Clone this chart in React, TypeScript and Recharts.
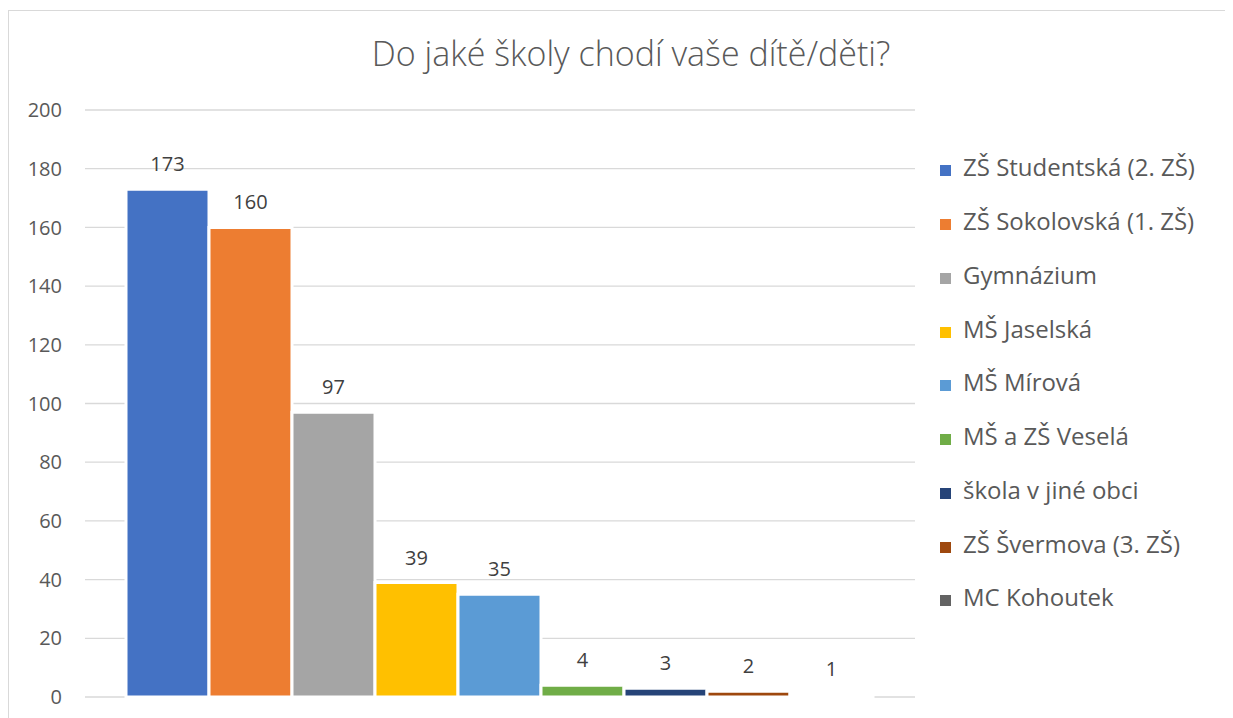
import React from "react";
import { BarChart, Bar, XAxis, YAxis, CartesianGrid, LabelList } from "recharts";

const categories = [""];
const seriesNames = [
  "ZŠ Studentská (2. ZŠ)",
  "ZŠ Sokolovská (1. ZŠ)",
  "Gymnázium",
  "MŠ Jaselská",
  "MŠ Mírová",
  "MŠ a ZŠ Veselá",
  "škola v jiné obci",
  "ZŠ Švermova (3. ZŠ)",
  "MC Kohoutek",
];
const seriesValues = [173, 160, 97, 39, 35, 4, 3, 2, 1];
const seriesColors = [
  "#4472C4",
  "#ED7D31",
  "#A5A5A5",
  "#FFC000",
  "#5B9BD5",
  "#70AD47",
  "#264478",
  "#9E480E",
  "#636363",
];
const yTicks = [0, 20, 40, 60, 80, 100, 120, 140, 160, 180, 200];
const title = "Do jaké školy chodí vaše dítě/děti?";

const data = categories.map((c) => {
  const row: Record<string, number | string> = { name: c };
  seriesValues.forEach((v, i) => {
    row["s" + i] = v;
  });
  return row;
});

const FONT = "'Open Sans', sans-serif";

export default function App() {
  return (
    <div
      style={{
        position: "relative",
        marginTop: 2,
        width: 1220,
        height: 712,
        border: "1px solid #D9D9D9",
        background: "#fff",
        fontFamily: FONT,
      }}
    >
      <div
        style={{
          position: "absolute",
          left: 0,
          width: 1244,
          top: 19,
          textAlign: "center",
          fontSize: 34,
          fontWeight: 300,
          color: "#595959",
          lineHeight: "46px",
          whiteSpace: "nowrap",
        }}
      >
        {title}
      </div>
      <BarChart
        width={1220}
        height={712}
        data={data}
        margin={{ top: 99, right: 314, bottom: 26, left: 16 }}
        barCategoryGap={41}
        barGap={0}
      >
        <CartesianGrid vertical={false} stroke="#D9D9D9" strokeWidth={1.3} />
        <XAxis dataKey="name" hide />
        <YAxis
          width={60}
          domain={[0, 200]}
          ticks={yTicks}
          axisLine={false}
          tickLine={false}
          tickSize={0}
          tickMargin={23}
          interval={0}
          tick={{ fill: "#595959", fontSize: 20, fontFamily: FONT }}
        />
        {seriesNames.map((n, i) => (
          <Bar
            key={n}
            dataKey={"s" + i}
            name={n}
            fill={seriesColors[i]}
            stroke="#FFFFFF"
            strokeWidth={3}
            isAnimationActive={false}
          >
            <LabelList
              dataKey={"s" + i}
              position="top"
              offset={18}
              fill="#404040"
              fontSize={20}
              fontFamily={FONT}
            />
          </Bar>
        ))}
      </BarChart>
      <div style={{ position: "absolute", left: 931, top: 130 }}>
        {seriesNames.map((n, i) => (
          <div
            key={n}
            style={{
              height: 53.75,
              display: "flex",
              alignItems: "center",
              fontSize: 24,
              color: "#595959",
              whiteSpace: "nowrap",
            }}
          >
            <span
              style={{
                display: "inline-block",
                width: 11,
                height: 11,
                background: seriesColors[i],
                marginRight: 12,
                position: "relative",
                top: 3,
              }}
            />
            <span style={{ position: "relative", top: -1 }}>{n}</span>
          </div>
        ))}
      </div>
    </div>
  );
}
